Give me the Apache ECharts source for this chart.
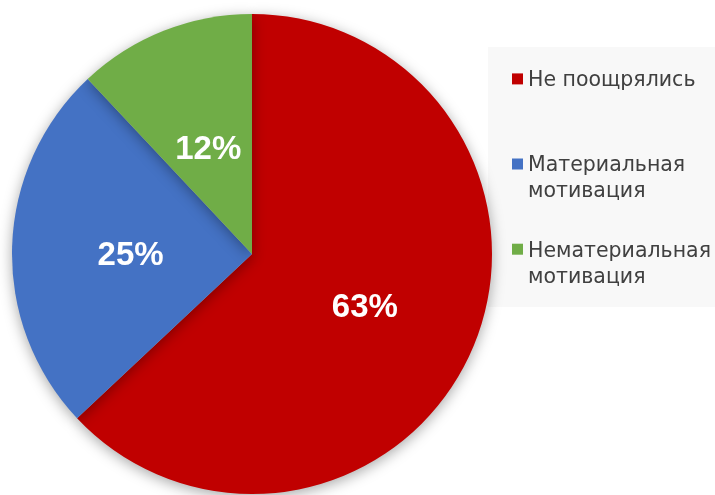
<!DOCTYPE html>
<html><head><meta charset="utf-8">
<script src="https://cdn.jsdelivr.net/npm/echarts@6/dist/echarts.min.js"></script>
<style>html,body{margin:0;padding:0;background:#fff}#c{width:715px;height:495px}</style>
</head><body><div id="c"></div>
<script>
const categories = ['Не поощрялись', 'Материальная мотивация', 'Нематериальная мотивация'];
const legendLines = [['Не поощрялись'], ['Материальная', 'мотивация'], ['Нематериальная', 'мотивация']];
const values = [63, 25, 12];
const colors = ['#C00000', '#4472C4', '#70AD47'];

const chart = echarts.init(document.getElementById('c'));
const font = '"Liberation Sans", Arial, sans-serif';
const legendFont = '"DejaVu Sans", sans-serif';
const legendTopAdj = [2, 15, 15];
const iconCenters = [78.4, 163.5, 248.7];
const labelPads = [[10, 0, 0, 0], [12, 0, 0, 3], [20, 0, 0, 3]];
const LH = 26;
const SHIFT = 2;
const legends = categories.map((name, i) => {
  const lines = legendLines[i];
  const h = (lines.length - 1) * LH + 2 * SHIFT;
  const text = '{s| }\n' + lines.map(l => '{t|' + l + '}').join('\n');
  const blockH = h + lines.length * LH;
  return {
    data: [name],
    left: 512,
    top: iconCenters[i] - blockH / 2 + legendTopAdj[i],
    orient: 'vertical',
    icon: 'rect',
    itemWidth: 11,
    itemHeight: 11,
    padding: 0,
    selectedMode: false,
    formatter: () => text,
    textStyle: {
      rich: {
        s: { fontSize: 1, lineHeight: h },
        t: { fontFamily: legendFont, fontSize: 20.5, color: '#404040', lineHeight: LH }
      }
    }
  };
});

chart.setOption({
  animation: false,
  textStyle: { fontFamily: font },
  graphic: [{
    type: 'rect', left: 488, top: 47, z: -10,
    shape: { width: 227, height: 260 },
    style: { fill: '#f8f8f8' }
  }],
  legend: legends,
  series: [{
    type: 'pie',
    center: [252, 254],
    radius: 240,
    startAngle: 90,
    clockwise: true,
    data: categories.map((n, i) => ({
      name: n, value: values[i],
      itemStyle: { color: colors[i] },
      label: { padding: labelPads[i] }
    })),
    itemStyle: { shadowBlur: 14, shadowColor: 'rgba(0,0,0,0.35)', shadowOffsetX: 0, shadowOffsetY: 3 },
    label: {
      show: true, position: 'inside',
      formatter: p => '{v|' + p.value + '%}',
      rich: { v: { color: '#fff', fontSize: 33, fontWeight: 'bold', fontFamily: font } }
    },
    labelLine: { show: false },
    emphasis: { disabled: true }
  }]
});
</script></body></html>
